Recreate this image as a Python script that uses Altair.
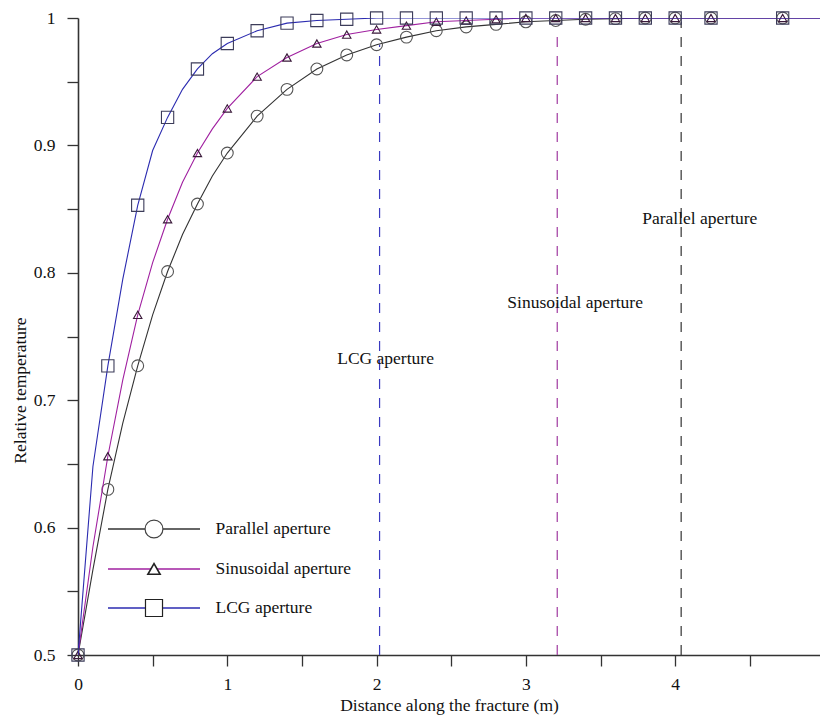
import altair as alt
import pandas as pd

# ---------------- data ----------------
series = ["Parallel aperture", "Sinusoidal aperture", "LCG aperture"]

x_markers = [0, 0.2, 0.4, 0.6, 0.8, 1.0, 1.2, 1.4, 1.6, 1.8, 2.0, 2.2, 2.4,
             2.6, 2.8, 3.0, 3.2, 3.4, 3.6, 3.8, 4.0, 4.24, 4.72]
parallel = [0.5, 0.630, 0.727, 0.801, 0.854, 0.894, 0.923, 0.944, 0.960, 0.971,
            0.979, 0.985, 0.990, 0.993, 0.995, 0.997, 0.998, 0.999, 0.9995, 1.0,
            1.0, 1.0, 1.0]
sinusoidal = [0.5, 0.656, 0.767, 0.842, 0.894, 0.929, 0.954, 0.969, 0.980, 0.987,
              0.991, 0.994, 0.997, 0.998, 0.999, 1.0, 1.0, 1.0, 1.0, 1.0,
              1.0, 1.0, 1.0]
lcg = [0.5, 0.727, 0.853, 0.922, 0.960, 0.980, 0.990, 0.996, 0.998, 0.999,
       1.0, 1.0, 1.0, 1.0, 1.0, 1.0, 1.0, 1.0, 1.0, 1.0,
       1.0, 1.0, 1.0]

# extra curve points between the markers
x_mid = [0.1, 0.3, 0.5, 0.7, 0.9]
parallel_mid = [0.567, 0.682, 0.767, 0.830, 0.876]
sinusoidal_mid = [0.585, 0.716, 0.808, 0.871, 0.913]
lcg_mid = [0.648, 0.795, 0.896, 0.944, 0.972]
x_line_end = 4.97
y_line_end = 1.0

# vertical dashed markers of the thermal front
front_x = [2.02, 3.21, 4.04]
front_top = [0.979, 0.992, 0.997]
front_color = ["#3a3ac0", "#a03aa0", "#333333"]

# annotations
ann_label = ["LCG aperture", "Sinusoidal aperture", "Parallel aperture"]
ann_x = [2.06, 3.33, 4.165]
ann_y = [0.732, 0.7765, 0.842]

x_ticks = [0, 0.5, 1, 1.5, 2, 2.5, 3, 3.5, 4, 4.5]
y_ticks = [0.5, 0.55, 0.6, 0.65, 0.7, 0.75, 0.8, 0.85, 0.9, 0.95, 1.0]

# ---------------- style ----------------
FONT = "Liberation Serif"
line_color = {"Parallel aperture": "#333333",
              "Sinusoidal aperture": "#a020a0",
              "LCG aperture": "#2b2bb0"}
mark_color = {"Parallel aperture": "#555555",
              "Sinusoidal aperture": "#3a1a3a",
              "LCG aperture": "#3c3c5a"}
shape = {"Parallel aperture": "circle",
         "Sinusoidal aperture": "triangle-up",
         "LCG aperture": "square"}
size = {"Parallel aperture": 140, "Sinusoidal aperture": 70, "LCG aperture": 150}
leg_size = {"Parallel aperture": 320, "Sinusoidal aperture": 150, "LCG aperture": 290}

values = {"Parallel aperture": parallel, "Sinusoidal aperture": sinusoidal, "LCG aperture": lcg}
mids = {"Parallel aperture": parallel_mid, "Sinusoidal aperture": sinusoidal_mid, "LCG aperture": lcg_mid}

X_DOMAIN = [0, x_line_end]
Y_DOMAIN = [0.5, 1.0]

xs = alt.Scale(domain=X_DOMAIN, nice=False, zero=False)
ys = alt.Scale(domain=Y_DOMAIN, nice=False, zero=False)

x_axis = alt.Axis(values=x_ticks, title="Distance along the fracture (m)",
                  labelExpr="datum.value % 1 == 0 ? format(datum.value, 'd') : ''",
                  labelPadding=9, titlePadding=4, labelFlush=False)
y_axis = alt.Axis(values=y_ticks, title="Relative temperature",
                  labelExpr="round(datum.value*100) % 10 == 0 ? format(datum.value, '.1~f') : ''",
                  labelPadding=12, titleX=-58, titleY=372, titleBaseline="middle",
                  labelFlush=False)

layers = []

# dashed front lines
df_front = pd.DataFrame({"x": front_x, "y0": [0.5] * 3, "y1": front_top, "c": front_color})
layers.append(
    alt.Chart(df_front).mark_rule(strokeDash=[10, 9], strokeWidth=1.2).encode(
        x=alt.X("x:Q", scale=xs, axis=x_axis),
        y=alt.Y("y0:Q", scale=ys, axis=y_axis),
        y2="y1:Q",
        color=alt.Color("c:N", scale=None),
    )
)

for s in series:
    xl = x_markers + x_mid + [x_line_end]
    yl = values[s] + mids[s] + [y_line_end]
    df_line = pd.DataFrame({"x": xl, "y": yl}).sort_values("x")
    layers.append(
        alt.Chart(df_line).mark_line(color=line_color[s], strokeWidth=1.1, clip=True).encode(
            x=alt.X("x:Q", scale=xs), y=alt.Y("y:Q", scale=ys), order="x:Q"
        )
    )
    df_pts = pd.DataFrame({"x": x_markers, "y": values[s]})
    layers.append(
        alt.Chart(df_pts).mark_point(shape=shape[s], size=size[s], filled=False,
                                     stroke=mark_color[s], strokeWidth=1.1, opacity=1).encode(
            x=alt.X("x:Q", scale=xs), y=alt.Y("y:Q", scale=ys)
        )
    )

# annotations
df_ann = pd.DataFrame({"x": ann_x, "y": ann_y, "t": ann_label})
layers.append(
    alt.Chart(df_ann).mark_text(font=FONT, fontSize=17.5, color="#111111",
                                align="center", baseline="middle").encode(
        x=alt.X("x:Q", scale=xs), y=alt.Y("y:Q", scale=ys), text="t:N"
    )
)

# legend (inside plot, lower left)
leg_rows_px = [511, 551, 590]
for i, s in enumerate(series):
    df_l = pd.DataFrame({"t": [s]})
    base = alt.Chart(df_l)
    layers.append(base.mark_rule(color=line_color[s], strokeWidth=1.3).encode(
        x=alt.value(30), x2=alt.value(122), y=alt.value(leg_rows_px[i])))
    layers.append(base.mark_point(shape=shape[s], size=leg_size[s], filled=False,
                                  stroke="#222222" if s != "Parallel aperture" else "#444444",
                                  strokeWidth=1.6 if s == "Sinusoidal aperture" else 1.2,
                                  fill="white", opacity=1).encode(
        x=alt.value(76), y=alt.value(leg_rows_px[i])))
    layers.append(base.mark_text(font=FONT, fontSize=17.5, color="#111111",
                                 align="left", baseline="middle").encode(
        x=alt.value(137.5), y=alt.value(leg_rows_px[i]), text="t:N"))

chart = alt.layer(*layers).properties(
    width=742, height=637,
    autosize=alt.AutoSizeParams(type="none"),
    padding={"left": 78, "top": 18, "right": 0, "bottom": 60},
    background="white",
).configure_view(stroke=None).configure_axis(
    labelFont=FONT, labelFontSize=17.5, labelColor="#111111",
    titleFont=FONT, titleFontSize=17.5, titleFontWeight="normal", titleColor="#111111",
    domainColor="#333333", domainWidth=1.6, tickColor="#333333", tickWidth=1.3,
    tickSize=11, grid=False,
)

chart.save("out.html", embed_options={"renderer": "svg", "actions": False})
